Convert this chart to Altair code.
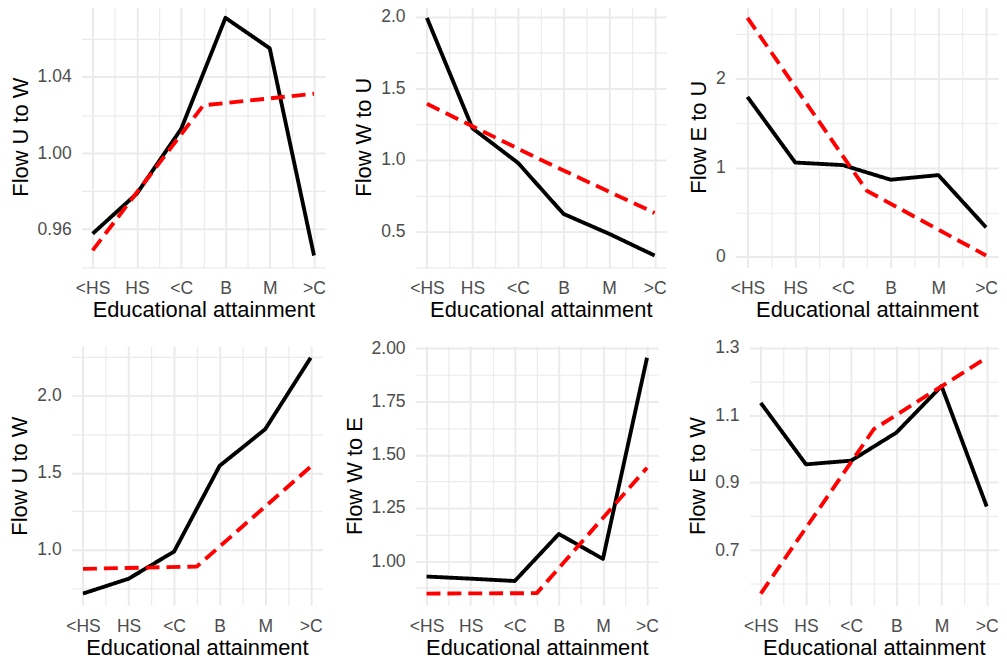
import altair as alt
import pandas as pd

# Category labels on the x axis and their positions
edu = ["<HS", "HS", "<C", "B", "M", ">C"]
edu_pos = [1, 2, 3, 4, 5, 6]
# Positions of the piecewise-linear (red dashed) fit knots
fit_pos = [1, 3.5, 6]

x_ticks = [1, 1.5, 2, 2.5, 3, 3.5, 4, 4.5, 5, 5.5, 6]

titles = ["Flow U to W", "Flow W to U", "Flow E to U",
          "Flow U to W", "Flow W to E", "Flow E to W"]

# Observed (black solid) series
obs_1 = [0.9576, 0.9787, 1.0127, 1.0711, 1.0551, 0.9461]
obs_2 = [1.993, 1.221, 0.979, 0.622, 0.483, 0.331]
obs_3 = [1.795, 1.059, 1.030, 0.866, 0.918, 0.331]
obs_4 = [0.718, 0.814, 0.990, 1.545, 1.782, 2.245]
obs_5 = [0.928, 0.918, 0.907, 1.128, 1.011, 1.956]
obs_6 = [1.136, 0.954, 0.965, 1.048, 1.186, 0.829]

# Fitted (red dashed) series at fit_pos
fit_1 = [0.9488, 1.0251, 1.0312]
fit_2 = [1.392, 1.000, 0.629]
fit_3 = [2.683, 0.742, 0.015]
fit_4 = [0.878, 0.893, 1.540]
fit_5 = [0.848, 0.850, 1.439]
fit_6 = [0.571, 1.058, 1.270]

# y-axis tick values (major labelled, minor grid only)
major_1 = [0.96, 1.00, 1.04]
minor_1 = [0.94, 0.98, 1.02, 1.06]
major_2 = [0.5, 1.0, 1.5, 2.0]
minor_2 = [0.25, 0.75, 1.25, 1.75]
major_3 = [0, 1, 2]
minor_3 = [0.5, 1.5, 2.5]
major_4 = [1.0, 1.5, 2.0]
minor_4 = [0.75, 1.25, 1.75, 2.25]
major_5 = [1.00, 1.25, 1.50, 1.75, 2.00]
minor_5 = [0.875, 1.125, 1.375, 1.625, 1.875]
major_6 = [0.7, 0.9, 1.1, 1.3]
minor_6 = [0.6, 0.8, 1.0, 1.2]

formats = [".2f", ".1f", ".0f", ".1f", ".2f", ".1f"]

FONT = "Liberation Sans"
LABEL_JS = "[" + ",".join("'" + e + "'" for e in edu) + "]"
COL_GAP = 20


def panel(title, obs, fit, majors, minors, fmt, w, h):
    df = pd.DataFrame({
        "x": edu_pos + fit_pos,
        "y": obs + fit,
        "series": ["actual"] * len(obs) + ["model"] * len(fit),
    })
    allv = obs + fit
    lo, hi = min(allv), max(allv)
    pad = 0.05 * (hi - lo)
    dom = [lo - pad, hi + pad]
    yvals = sorted(v for v in majors + minors if dom[0] <= v <= dom[1])
    major_js = "[" + ",".join(repr(float(v)) for v in majors) + "]"
    is_major = "indexof(" + major_js + ", datum.value) >= 0"

    xaxis = alt.Axis(
        title="Educational attainment",
        values=x_ticks,
        labelExpr="datum.value % 1 === 0 ? " + LABEL_JS + "[datum.value - 1] : ''",
        labelOverlap=False,
        ticks=False, domain=False,
        grid=True, gridColor="#EBEBEB",
        gridWidth={"condition": {"test": "datum.value % 1 === 0", "value": 2}, "value": 1.2},
        labelFont=FONT, labelFontSize=17.6, labelColor="#4D4D4D", labelPadding=12.5,
        titleFont=FONT, titleFontSize=22, titleColor="#000000", titleFontWeight="normal",
        titlePadding=2, minExtent=0,
    )
    yaxis = alt.Axis(
        title=title,
        values=yvals,
        format=fmt,
        labelExpr=is_major + " ? datum.label : ''",
        labelOverlap=False,
        ticks=False, domain=False,
        grid=True, gridColor="#EBEBEB",
        gridWidth={"condition": {"test": is_major, "value": 2}, "value": 1.2},
        labelFont=FONT, labelFontSize=17.6, labelColor="#4D4D4D", labelPadding=10.5,
        titleFont=FONT, titleFontSize=22, titleColor="#000000", titleFontWeight="normal",
        titlePadding=5, minExtent=0,
    )
    return alt.Chart(df).mark_line(strokeWidth=3.9, strokeJoin="round").encode(
        x=alt.X("x:Q", scale=alt.Scale(domain=[0.75, 6.25], nice=False, zero=False), axis=xaxis),
        y=alt.Y("y:Q", scale=alt.Scale(domain=dom, nice=False, zero=False), axis=yaxis),
        color=alt.Color("series:N", scale=alt.Scale(domain=["actual", "model"], range=["#000000", "#FF0000"]), legend=None),
        strokeDash=alt.StrokeDash("series:N", scale=alt.Scale(domain=["actual", "model"], range=[[1, 0], [14, 7]]), legend=None),
    ).properties(width=w, height=h)


def spacer():
    # invisible 1px cell so that each row is packed from its own left edge
    return alt.Chart(pd.DataFrame({"d": [0]})).mark_point(opacity=0, size=0).encode(
        x=alt.X("d:Q", axis=None), y=alt.Y("d:Q", axis=None)
    ).properties(width=1, height=1)


H1 = 263
H2 = 261
p1 = panel(titles[0], obs_1, fit_1, major_1, minor_1, formats[0], 245, H1)
p2 = panel(titles[1], obs_2, fit_2, major_2, minor_2, formats[1], 252, H1)
p3 = panel(titles[2], obs_3, fit_3, major_3, minor_3, formats[2], 264, H1)
p4 = panel(titles[3], obs_4, fit_4, major_4, minor_4, formats[3], 252, H2)
p5 = panel(titles[4], obs_5, fit_5, major_5, minor_5, formats[4], 244, H2)
p6 = panel(titles[5], obs_6, fit_6, major_6, minor_6, formats[5], 250, H2)

chart = alt.concat(
    spacer(), p1, p2, p3, spacer(), p4, p5, p6,
    columns=4,
    spacing={"row": 17, "column": COL_GAP},
    align={"row": "each", "column": "none"},
).configure_view(stroke=None).properties(
    padding={"left": 1 - 1 - COL_GAP, "top": -4, "right": 0, "bottom": 0},
    background="white",
)

chart.save("out.html", embed_options={"renderer": "svg", "actions": False})
